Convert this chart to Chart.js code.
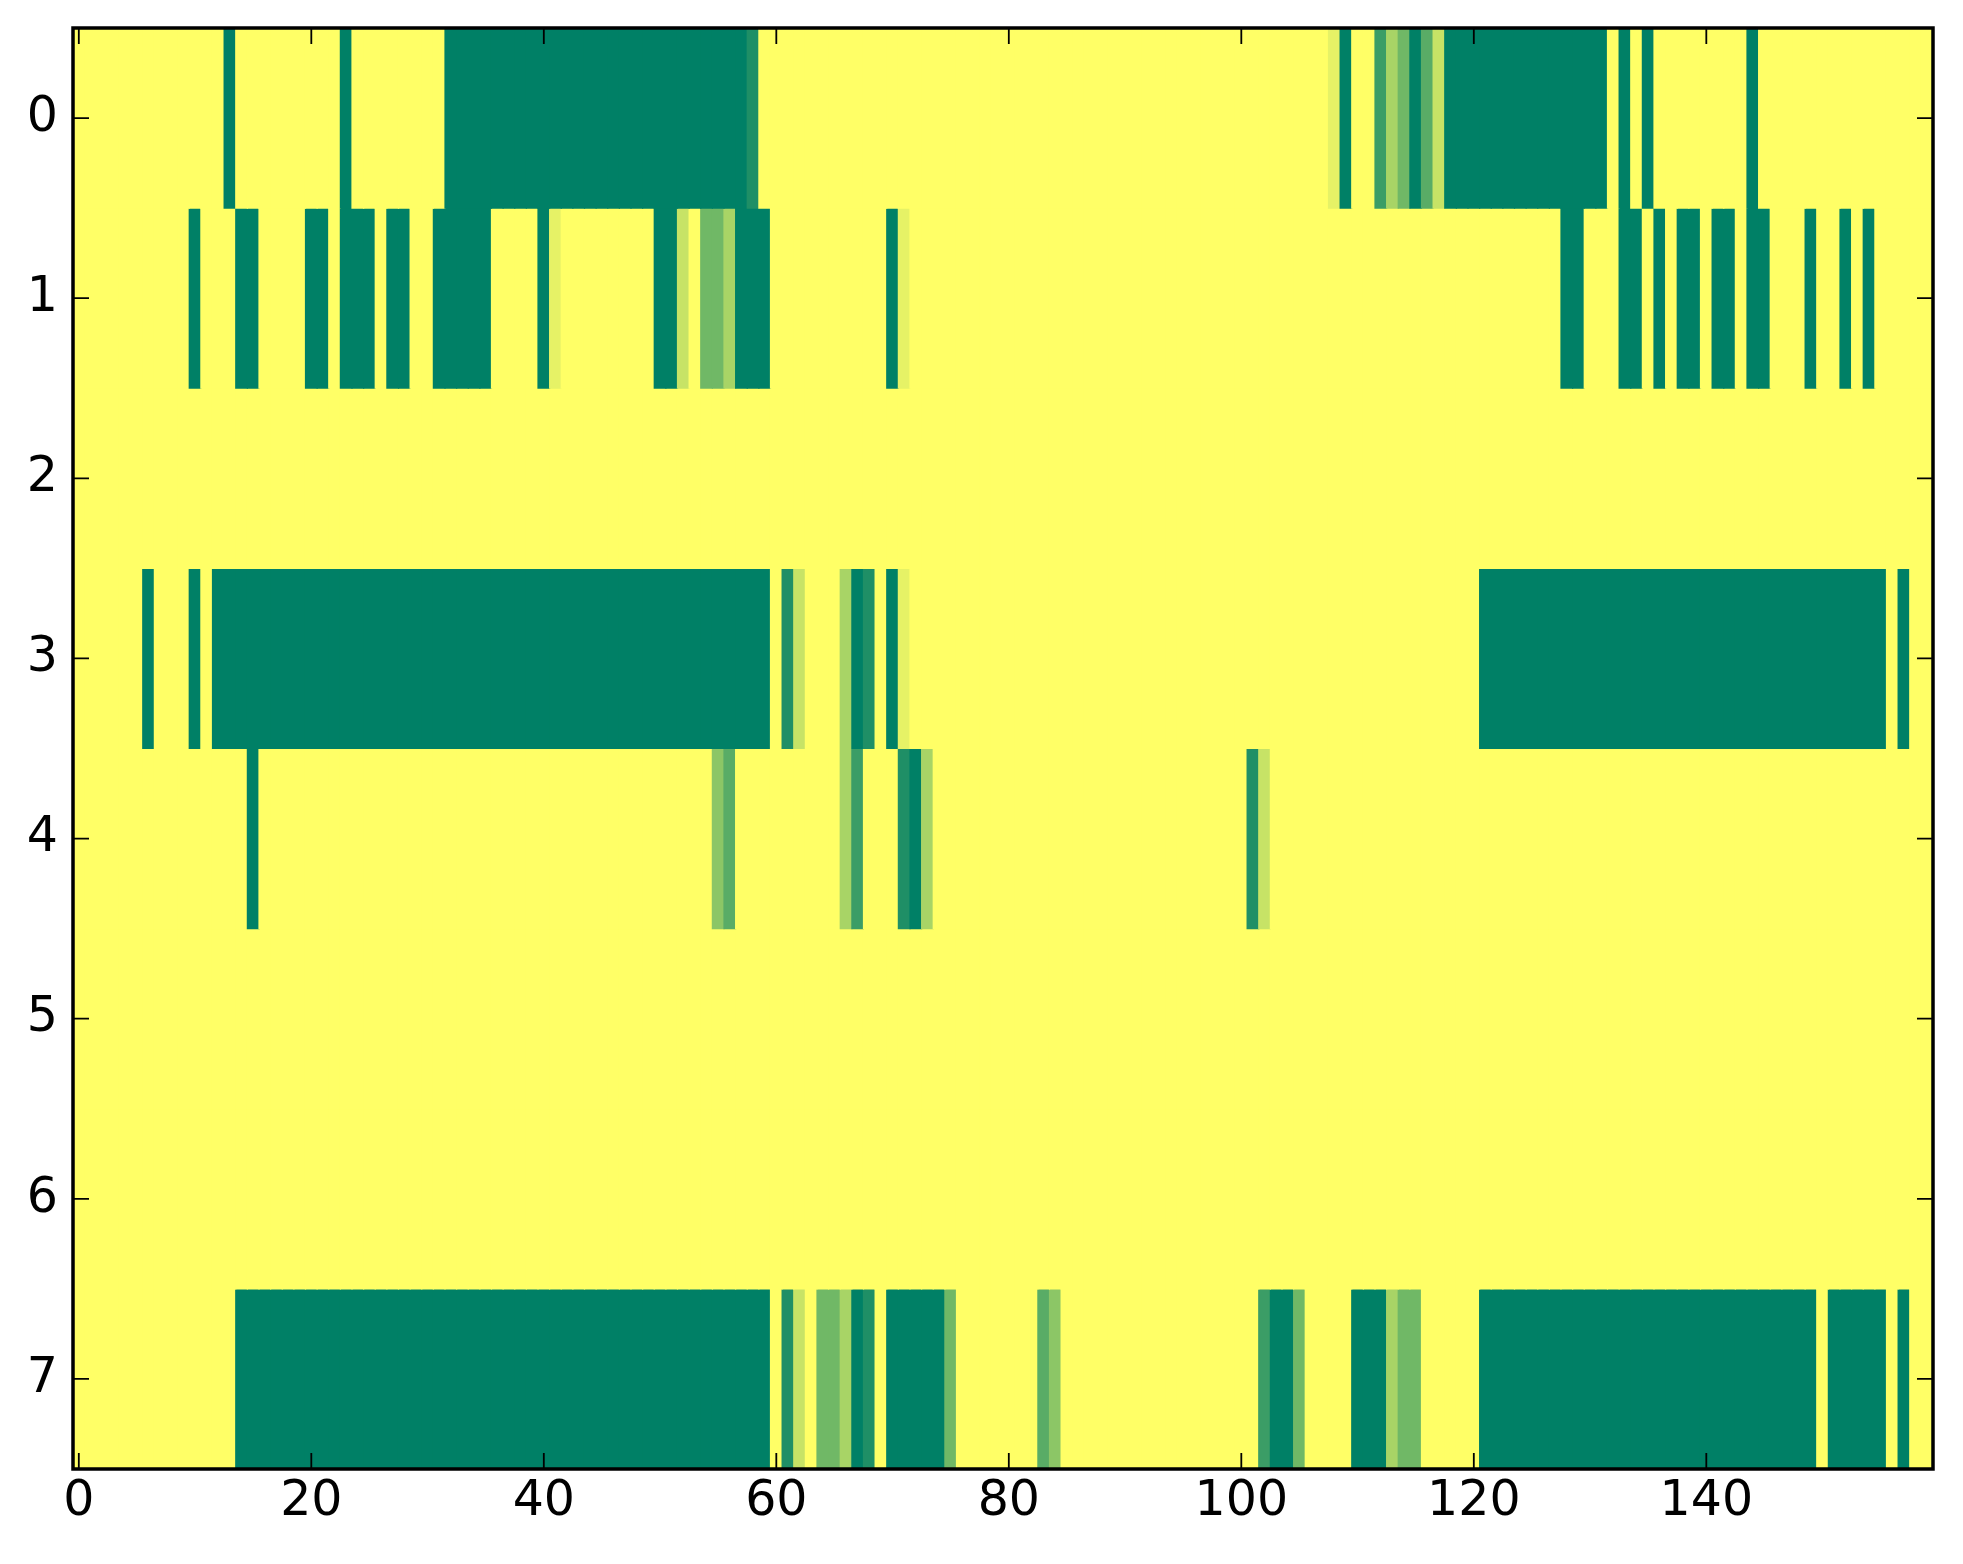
<!DOCTYPE html>
<html>
<head>
<meta charset="utf-8">
<script src="https://cdn.jsdelivr.net/npm/chart.js@4/dist/chart.umd.min.js"></script>
<style>
  html, body { margin: 0; padding: 0; background: #fff; }
  #wrap { width: 1963px; height: 1564px; }
</style>
</head>
<body>
<div id="wrap"><canvas id="heat" width="1963" height="1564"></canvas></div>
<script>
// colour levels (0 = dark green, 1 = yellow)
const levels = [0, 0.12, 0.23, 0.35, 0.44, 0.55, 0.66, 0.78, 0.9, 1];
const rowLabels = ['0', '1', '2', '3', '4', '5', '6', '7'];
const xTicks = [0, 20, 40, 60, 80, 100, 120, 140];

// one digit per column (index into levels), 160 columns, in groups of ten
const row0 = '9999999999 9990999999 9990999999 9900000000 0000000000 0000000019 9999999999 9999999999 9999999999 9999999999 9999999980 9926403700 0000000000 0090909999 9999099999 9999999999';
const row1 = '9999999999 0999009999 0090009009 9000009999 0899999999 0079446000 9999999999 0899999999 9999999999 9999999999 9999999999 9999999999 9999999900 9990090900 9009009990 9909099999';
const row2 = '9999999999 9999999999 9999999999 9999999999 9999999999 9999999999 9999999999 9999999999 9999999999 9999999999 9999999999 9999999999 9999999999 9999999999 9999999999 9999999999';
const row3 = '9999990999 0900000000 0000000000 0000000000 0000000000 0000000000 9179996019 0899999999 9999999999 9999999999 9999999999 9999999999 9000000000 0000000000 0000000000 0000009099';
const row4 = '9999999999 9999909999 9999999999 9999999999 9999999999 9999953999 9999996299 9106999999 9999999999 9999999999 9179999999 9999999999 9999999999 9999999999 9999999999 9999999999';
const row5 = '9999999999 9999999999 9999999999 9999999999 9999999999 9999999999 9999999999 9999999999 9999999999 9999999999 9999999999 9999999999 9999999999 9999999999 9999999999 9999999999';
const row6 = '9999999999 9999999999 9999999999 9999999999 9999999999 9999999999 9999999999 9999999999 9999999999 9999999999 9999999999 9999999999 9999999999 9999999999 9999999999 9999999999';
const row7 = '9999999999 9999000000 0000000000 0000000000 0000000000 0000000000 9179446019 0000049999 9993599999 9999999999 9920049999 0006449999 9000000000 0000000000 0000000000 9000009099';

const rows = [row0, row1, row2, row3, row4, row5, row6, row7]
  .map(s => s.replace(/ /g, '').split('').map(ch => levels[+ch]));

// matplotlib "summer" colormap
const summer = t => `rgb(${Math.round(255 * t)}, ${Math.round(127.5 + 127.5 * t)}, 102)`;

const datasets = rows.map((vals, r) => ({
  data: vals.map((v, c) => ({ x: [c - 0.5, c + 0.5], y: rowLabels[r] })),
  backgroundColor: vals.map(summer),
  borderWidth: 0,
  grouped: false,
  barPercentage: 1,
  categoryPercentage: 1,
  inflateAmount: 0.6
}));

// inward ticks on all four sides + black frame
const frame = {
  id: 'frame',
  afterDatasetsDraw(chart) {
    const { ctx, chartArea: a, scales: { x, y } } = chart;
    ctx.save();
    ctx.strokeStyle = '#000';
    ctx.lineWidth = 1.8;
    ctx.beginPath();
    xTicks.forEach(v => {
      const px = x.getPixelForValue(v);
      ctx.moveTo(px, a.bottom); ctx.lineTo(px, a.bottom - 16);
      ctx.moveTo(px, a.top); ctx.lineTo(px, a.top + 16);
    });
    rowLabels.forEach((l, i) => {
      const py = y.getPixelForValue(i);
      ctx.moveTo(a.left, py); ctx.lineTo(a.left + 16, py);
      ctx.moveTo(a.right, py); ctx.lineTo(a.right - 16, py);
    });
    ctx.stroke();
    ctx.lineWidth = 3.5;
    ctx.strokeRect(a.left, a.top, a.right - a.left, a.bottom - a.top);
    ctx.restore();
  }
};

const tickFont = { family: 'DejaVu Sans', size: 49 };

new Chart(document.getElementById('heat'), {
  type: 'bar',
  data: { labels: rowLabels, datasets },
  options: {
    indexAxis: 'y',
    responsive: false,
    animation: false,
    devicePixelRatio: 1,
    layout: { padding: { top: 28, right: 30, left: 0, bottom: 0 } },
    plugins: { legend: { display: false }, tooltip: { enabled: false } },
    scales: {
      x: {
        type: 'linear',
        min: -0.5,
        max: 159.5,
        grid: { display: false, drawTicks: false },
        border: { display: false },
        afterBuildTicks: s => { s.ticks = xTicks.map(v => ({ value: v })); },
        afterFit: s => { s.height = 95; s.paddingLeft = 0; s.paddingRight = 0; },
        ticks: { color: '#000', font: tickFont, padding: 4, maxRotation: 0, autoSkip: false }
      },
      y: {
        type: 'category',
        grid: { display: false, drawTicks: false },
        border: { display: false },
        afterFit: s => { s.width = 73; s.paddingTop = 0; s.paddingBottom = 0; },
        ticks: { color: '#000', font: tickFont, padding: 15, autoSkip: false }
      }
    }
  },
  plugins: [frame]
});
</script>
</body>
</html>
